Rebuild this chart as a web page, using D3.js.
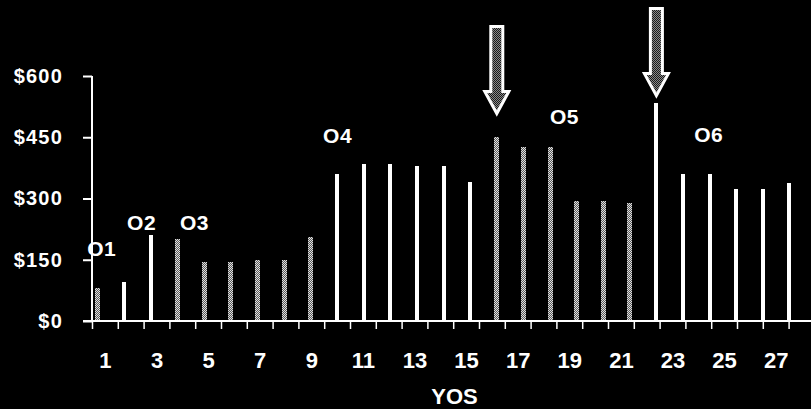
<!DOCTYPE html>
<html>
<head>
<meta charset="utf-8">
<script src="https://cdn.jsdelivr.net/npm/d3@7"></script>
<style>
  html, body { margin: 0; padding: 0; background: #000; }
  svg { display: block; }
  text { font-family: "Liberation Sans", Arial, Helvetica, sans-serif; font-weight: bold; fill: #fff; }
</style>
</head>
<body>
<svg id="chart" width="811" height="409"></svg>
<script>
// ---- data ----
const yos = [1,2,3,4,5,6,7,8,9,10,11,12,13,14,15,16,17,18,19,20,21,22,23,24,25,26,27];
const pay = [80,95,210,200,145,145,150,150,205,360,385,385,380,380,340,450,425,425,295,295,290,535,360,360,323,323,338];
const shaded = [1,0,0,1,1,1,1,1,1,0,0,0,0,0,0,1,1,1,1,1,1,0,0,0,0,0,0];
const yTicks = [0,150,300,450,600];
const xLabels = [1,3,5,7,9,11,13,15,17,19,21,23,25,27];
const gradeNames = ["O1","O2","O3","O4","O5","O6"];
const gradeAtYos = [0.6,2.1,4.09,9.47,18.0,23.42];
const gradeAtPay = [159,223,223,436,482,438];
const arrowYos = [16,22];
const arrowTipPay = [508,552];
const xTitle = "YOS";

// ---- layout ----
const svg = d3.select("#chart");
const y = d3.scaleLinear().domain([0,600]).range([321,76]);
const xb = d3.scaleLinear().domain([1,27]).range([97.8,789.4]);      // bar positions
const xt = d3.scaleLinear().domain([0.5,28.5]).range([92,814.4]);    // axis ticks / labels

const defs = svg.append("defs");
const light = defs.append("pattern").attr("id","lightDots").attr("patternUnits","userSpaceOnUse")
  .attr("width",2).attr("height",2);
light.append("rect").attr("width",2).attr("height",2).attr("fill","#e0e0e0");
light.append("rect").attr("x",1).attr("y",0).attr("width",1).attr("height",1).attr("fill","#5a5a5a");
light.append("rect").attr("x",0).attr("y",1).attr("width",1).attr("height",1).attr("fill","#5a5a5a");
const dark = defs.append("pattern").attr("id","darkDots").attr("patternUnits","userSpaceOnUse")
  .attr("width",2).attr("height",2);
dark.append("rect").attr("width",2).attr("height",2).attr("fill","#1a1a1a");
dark.append("rect").attr("x",1).attr("y",0).attr("width",1).attr("height",1).attr("fill","#8a8a8a");
dark.append("rect").attr("x",0).attr("y",1).attr("width",1).attr("height",1).attr("fill","#8a8a8a");

// bars
const data = yos.map((d,i)=>({yos:d, pay:pay[i], shaded:shaded[i]}));
svg.append("g").selectAll("rect").data(data).join("rect")
  .attr("x", d => Math.round(xb(d.yos) - (d.shaded ? 2.5 : 2)))
  .attr("width", d => d.shaded ? 5 : 4)
  .attr("y", d => Math.round(y(d.pay)))
  .attr("height", d => Math.round(y(0)) - Math.round(y(d.pay)))
  .attr("fill", d => d.shaded ? "url(#lightDots)" : "#fff")
  .attr("shape-rendering","crispEdges");

// y axis
const yAxis = svg.append("g").attr("transform",`translate(${xt(0.5)},0)`)
  .call(d3.axisLeft(y).tickValues(yTicks).tickSize(9).tickPadding(20).tickFormat(d => "$" + d));
yAxis.select(".domain").attr("d", `M0,${y(600)}V${y(0)}`).attr("stroke","#fff").attr("stroke-width",2);
yAxis.selectAll(".tick line").attr("stroke","#fff").attr("stroke-width",2);
yAxis.selectAll(".tick text").attr("fill","#fff").attr("font-size",20).attr("letter-spacing",1.2)
  .attr("font-family","Liberation Sans, Arial, sans-serif").attr("font-weight","bold");

// x axis line + ticks
const xAxis = svg.append("g").attr("transform",`translate(0,${y(0)})`)
  .call(d3.axisBottom(xt).tickValues(d3.range(0.5,28,1)).tickSize(8).tickFormat(""));
xAxis.select(".domain").attr("d", `M${xt(0.5)-9},0H811`).attr("stroke","#fff").attr("stroke-width",2);
xAxis.selectAll(".tick line").attr("stroke","#fff").attr("stroke-width",1.5);

// x labels
const xLab = svg.append("g").attr("transform",`translate(0,${y(0)})`)
  .call(d3.axisBottom(xt).tickValues(xLabels).tickSize(0).tickPadding(31).tickFormat(d3.format("d")));
xLab.select(".domain").remove();
xLab.selectAll(".tick text").attr("fill","#fff").attr("font-size",22)
  .attr("font-family","Liberation Sans, Arial, sans-serif").attr("font-weight","bold");

// x title
svg.append("text").attr("x", xt(14.55)).attr("y", 404).attr("text-anchor","middle")
  .attr("font-size",22).text(xTitle);

// grade labels
svg.append("g").selectAll("text").data(gradeNames).join("text")
  .attr("x",(d,i)=>xb(gradeAtYos[i])).attr("y",(d,i)=>y(gradeAtPay[i]))
  .attr("font-size",21).attr("font-weight","bold").attr("letter-spacing",0.5).text(d=>d);

// arrows
const shaftHalf = 6, headHalf = 12, headLen = 22, totalLen = 87;
svg.append("g").selectAll("path").data(arrowYos).join("path")
  .attr("d",(d,i)=>{
    const cx = xb(d), tip = y(arrowTipPay[i]);
    const hb = tip - headLen, top = tip - totalLen;
    return `M${cx-shaftHalf},${top}H${cx+shaftHalf}V${hb}H${cx+headHalf}L${cx},${tip}L${cx-headHalf},${hb}H${cx-shaftHalf}Z`;
  })
  .attr("fill","url(#darkDots)").attr("stroke","#fff").attr("stroke-width",3).attr("stroke-linejoin","miter");
</script>
</body>
</html>
